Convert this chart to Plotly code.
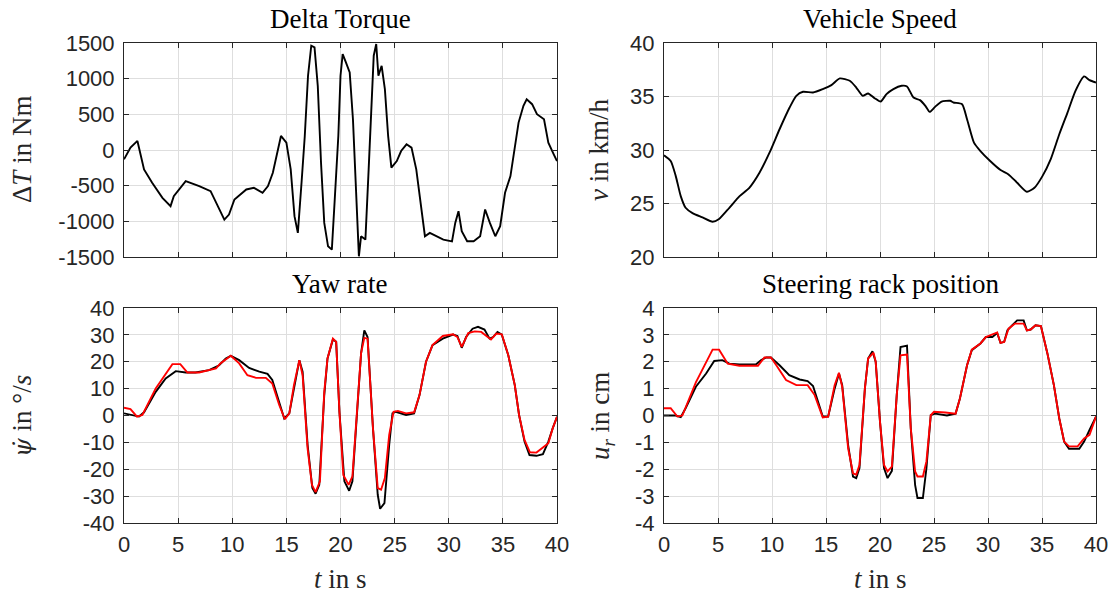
import plotly.graph_objects as go

# ---------------- data ----------------
t_torque = [0, 0.6, 1.24, 1.85, 2.6, 3.55, 4.3, 4.6, 5.7, 6.95, 8.0, 8.8, 9.27, 9.7, 10.2, 11.3, 12.0,
            12.8, 13.3, 13.75, 14.2, 14.5, 15.0, 15.4, 15.75, 16.06, 16.4, 16.7, 17.0, 17.3, 17.6, 17.9,
            18.2, 18.5, 18.85, 19.2, 19.45, 19.8, 20.0, 20.2, 20.5, 20.85, 21.15, 21.5, 21.7, 21.9, 22.3,
            22.6, 22.85, 23.07, 23.3, 23.5, 23.8, 24.1, 24.4, 24.7, 25.2, 25.6, 26.1, 26.56, 27.0, 27.5,
            27.8, 28.25, 28.9, 29.5, 30.3, 30.6, 30.9, 31.2, 31.7, 32.3, 32.9, 33.36, 33.8, 34.3, 34.75,
            35.2, 35.7, 36.1, 36.45, 36.9, 37.2, 37.7, 38.15, 38.8, 39.2, 39.7, 40]
torque = [-131, 33, 127, -272, -459, -670, -787, -647, -436, -506, -577, -834, -975, -905, -694, -553, -530,
          -600, -506, -319, 9, 197, 103, -272, -928, -1162, -459, 197, 1041, 1462, 1439, 900,
          -178, -1022, -1350, -1397, -740, 197, 1041, 1345, 1228, 1088, 431, -740, -1490, -1209, -1256,
          -272, 666, 1322, 1486, 1041, 1181, 853, 197, -248, -155, -14, 80, 33, -272, -834,
          -1209, -1162, -1209, -1256, -1280, -1022, -858, -1139, -1280, -1280, -1209, -834, -1022, -1209, -1069,
          -600, -366, 56, 384, 619, 712, 642, 502, 431, 103, -61, -155]

t_speed = [0, 0.62, 1.09, 1.55, 2.0, 2.64, 3.57, 4.5, 5.1, 6.05, 7.0, 7.9, 8.84, 9.77, 10.7, 11.63, 12.25,
           12.87, 13.8, 14.7, 15.5, 16.28, 17.2, 17.8, 18.4, 18.9, 19.5, 20.06, 20.6, 21.24, 22.0, 22.5,
           23.1, 23.7, 24.2, 24.6, 25.1, 25.7, 26.5, 26.8, 27.6, 28.06, 28.7, 29.3, 30.2, 31.16, 31.9,
           32.7, 33.6, 34.3, 35.04, 35.8, 36.6, 37.36, 38.1, 38.9, 39.4, 40]
speed = [29.5, 28.97, 27.56, 25.69, 24.6, 24.1, 23.7, 23.3, 23.56, 24.6, 25.69, 26.47, 27.875, 29.75, 31.94, 33.97, 35.06,
         35.44, 35.375, 35.69, 36.06, 36.69, 36.47, 35.84, 35.06, 35.28, 34.84, 34.53, 35.22, 35.69, 36.0, 35.94,
         34.9, 34.66, 34.125, 33.56, 34.03, 34.53, 34.6, 34.44, 34.28, 32.875, 30.69, 29.9, 28.97, 28.125, 27.72,
         26.94, 26.1, 26.47, 27.56, 29.125, 31.47, 33.5, 35.53, 36.875, 36.53, 36.3]

t_yaw_meas = [0, 0.77, 1.39, 1.85, 2.93, 3.85, 4.78, 5.7, 6.6, 7.86, 8.79, 9.4, 9.87, 10.64, 11.56, 12.5, 13.26,
              13.7, 14.34, 14.8, 15.27, 15.7, 16.2, 16.5, 16.96, 17.4, 17.7, 18.04, 18.5, 18.8, 19.3, 19.6,
              19.9, 20.36, 20.8, 21.1, 21.6, 21.9, 22.2, 22.5, 23.0, 23.44, 23.66, 24.06, 24.5, 24.8, 25.1,
              26.06, 26.8, 27.3, 27.9, 28.5, 29.45, 30.4, 30.8, 31.2, 31.6, 32.2, 32.7, 33.3, 33.77, 34.1,
              34.5, 34.9, 35.5, 36.1, 36.5, 37.0, 37.46, 38.1, 38.7, 39.2, 39.6, 40]
yaw_meas = [0.8, 0.2, -0.4, 1.2, 8.8, 13.8, 16.5, 16.0, 16.0, 16.9, 18.7, 21.2, 22.2, 20.6, 17.7, 16.3, 15.5,
            13.2, 5.1, -1.1, 0.8, 10.1, 20.6, 16.3, -10.9, -27.0, -29.1, -25.8, 7.6, 21.2, 28.3, 27.4,
            1.4, -24.5, -28.0, -24.5, 7.6, 23.1, 31.7, 29.2, -4.8, -29.5, -34.7, -32.6, -10.9, 0.8, 1.4,
            0.2, 0.8, 7.6, 20.0, 26.2, 28.6, 30.1, 29.6, 25.2, 29.2, 32.3, 33.0, 32.0, 28.6, 29.2,
            31.1, 30.1, 22.4, 11.3, 0.1, -9.7, -14.7, -15.0, -14.4, -9.7, -4.8, -0.5]

t_yaw_model = [0, 0.6, 1.2, 1.7, 2.93, 3.85, 4.47, 5.2, 5.86, 6.94, 8.5, 8.9, 9.87, 10.64, 11.4, 12.2, 13.1,
               13.7, 14.34, 14.86, 15.27, 15.7, 16.2, 16.5, 16.96, 17.36, 17.7, 18.1, 18.5, 18.8, 19.3, 19.6,
               19.9, 20.26, 20.75, 21.1, 21.6, 21.9, 22.2, 22.5, 23.0, 23.44, 23.75, 24.1, 24.5, 24.9, 25.3,
               26.06, 26.8, 27.3, 27.9, 28.5, 29.45, 30.4, 30.8, 31.2, 31.8, 32.4, 33.0, 33.5, 33.9, 34.4,
               34.9, 35.5, 36.1, 36.5, 37.0, 37.5, 38.1, 38.7, 39.2, 39.6, 40]
yaw_model = [2.9, 2.4, -0.4, 0.2, 10.1, 15.6, 19.1, 19.1, 16.0, 16.0, 17.5, 19.4, 22.2, 19.4, 15.0, 14.0, 14.0,
             11.9, 3.9, -1.4, 0.8, 11.3, 20.6, 15.0, -12.2, -25.8, -28.5, -24.5, 8.8, 21.2, 28.6, 27.4,
             1.4, -22.1, -25.8, -22.7, 7.6, 23.1, 28.9, 28.6, -4.8, -27.0, -27.6, -23.3, -7.2, 1.4, 1.7,
             0.8, 1.2, 7.6, 20.0, 26.2, 29.6, 30.2, 29.2, 25.5, 30.7, 31.3, 31.1, 29.5, 28.3, 30.5,
             30.2, 22.4, 11.3, 0.1, -9.1, -13.7, -13.8, -11.9, -10.3, -4.8, -0.5]

t_rack_meas = [0, 1.09, 1.55, 2.0, 2.95, 3.9, 4.65, 5.4, 6.05, 6.98, 8.5, 9.0, 9.46, 9.9, 10.7, 11.6, 12.56,
               13.3, 13.8, 14.26, 14.7, 15.2, 15.8, 16.2, 16.5, 17.05, 17.5, 17.8, 18.1, 18.6, 18.9, 19.3,
               19.6, 20.0, 20.37, 20.7, 21.1, 21.55, 21.9, 22.5, 22.85, 23.25, 23.47, 23.97, 24.3, 24.7, 25.1,
               26.2, 27.0, 27.4, 28.06, 28.5, 29.3, 29.8, 30.4, 30.85, 31.16, 31.5, 31.8, 32.25, 32.7, 33.3,
               33.6, 33.95, 34.4, 34.9, 35.5, 36.1, 36.6, 37.05, 37.5, 38.45, 38.9, 39.4, 40]
rack_meas = [0.0, 0.0, -0.06, 0.27, 1.07, 1.56, 2.03, 2.06, 1.93, 1.9, 1.9, 2.06, 2.16, 2.16, 1.87, 1.5, 1.34,
             1.28, 1.1, 0.51, -0.04, -0.04, 1.0, 1.56, 1.13, -1.1, -2.27, -2.33, -1.96, 1.0, 2.12, 2.39,
             2.0, -0.23, -1.96, -2.33, -2.06, 0.76, 2.55, 2.6, -0.48, -2.58, -3.07, -3.07, -1.96, 0.01, 0.07,
             0.0, 0.07, 0.63, 1.87, 2.43, 2.68, 2.92, 2.92, 3.07, 2.7, 2.74, 3.17, 3.36, 3.54, 3.54,
             3.17, 3.2, 3.36, 3.33, 2.31, 1.13, -0.11, -0.97, -1.24, -1.24, -0.97, -0.54, -0.04]

t_rack_model = [0, 0.62, 1.24, 1.7, 2.95, 3.9, 4.5, 5.1, 5.9, 6.98, 8.7, 9.3, 9.9, 10.4, 11.3, 12.25, 13.3,
                13.95, 14.7, 15.2, 15.8, 16.2, 16.5, 17.05, 17.5, 17.8, 18.1, 18.6, 18.9, 19.4, 19.6, 20.0,
                20.37, 20.7, 21.1, 21.55, 21.9, 22.5, 22.85, 23.25, 23.47, 23.97, 24.3, 24.7, 25.0, 26.05, 27.0,
                27.4, 28.06, 28.5, 29.3, 29.8, 30.55, 30.85, 31.16, 31.5, 31.9, 32.5, 33.3, 33.6, 33.95, 34.4,
                34.9, 35.5, 36.1, 36.6, 37.05, 37.5, 38.3, 38.9, 39.4, 40]
rack_model = [0.27, 0.27, -0.04, 0.0, 1.23, 2.0, 2.45, 2.45, 1.93, 1.85, 1.85, 2.16, 2.16, 1.87, 1.32, 1.13, 1.13,
              0.76, -0.07, -0.04, 1.13, 1.59, 1.07, -1.22, -2.15, -2.2, -1.84, 1.0, 2.12, 2.34, 2.0, -0.23,
              -1.84, -2.08, -1.9, 0.76, 2.24, 2.27, -0.48, -2.08, -2.27, -2.27, -1.71, 0.01, 0.14, 0.11, 0.07,
              0.63, 1.87, 2.45, 2.68, 2.92, 3.05, 3.09, 2.7, 2.74, 3.23, 3.42, 3.42, 3.17, 3.2, 3.36,
              3.33, 2.31, 1.13, -0.11, -0.97, -1.15, -1.15, -0.85, -0.72, -0.04]

x_ticks = [0, 5, 10, 15, 20, 25, 30, 35, 40]
torque_ticks = [-1500, -1000, -500, 0, 500, 1000, 1500]
speed_ticks = [20, 25, 30, 35, 40]
yaw_ticks = [-40, -30, -20, -10, 0, 10, 20, 30, 40]
rack_ticks = [-4, -3, -2, -1, 0, 1, 2, 3, 4]

titles = ["Delta Torque", "Vehicle Speed", "Yaw rate", "Steering rack position"]

# ---------------- figure ----------------
W, H = 1113, 595
fig = go.Figure()

BLACK = "#000000"
RED = "#ff0000"
LW = 1.9

fig.add_trace(go.Scatter(x=t_torque, y=torque, mode="lines", line=dict(color=BLACK, width=LW),
                         xaxis="x", yaxis="y", showlegend=False))
fig.add_trace(go.Scatter(x=t_speed, y=speed, mode="lines", line=dict(color=BLACK, width=LW, shape="spline", smoothing=0.6),
                         xaxis="x2", yaxis="y2", showlegend=False))
fig.add_trace(go.Scatter(x=t_yaw_meas, y=yaw_meas, mode="lines", line=dict(color=BLACK, width=LW),
                         xaxis="x3", yaxis="y3", showlegend=False))
fig.add_trace(go.Scatter(x=t_yaw_model, y=yaw_model, mode="lines", line=dict(color=RED, width=LW),
                         xaxis="x3", yaxis="y3", showlegend=False))
fig.add_trace(go.Scatter(x=t_rack_meas, y=rack_meas, mode="lines", line=dict(color=BLACK, width=LW),
                         xaxis="x4", yaxis="y4", showlegend=False))
fig.add_trace(go.Scatter(x=t_rack_model, y=rack_model, mode="lines", line=dict(color=RED, width=LW),
                         xaxis="x4", yaxis="y4", showlegend=False))

def px_x(p):
    return p / W

def px_y(p):
    return 1 - p / H

xl = [px_x(124), px_x(557)]
xr = [px_x(664), px_x(1096)]
yt = [px_y(257), px_y(43)]
yb = [px_y(523), px_y(308)]

TICKFONT = dict(family="Liberation Sans, Arial, sans-serif", size=22, color="#262626")
SERIF = "Liberation Serif, Times New Roman, serif"

def xaxis(domain, anchor, show_labels):
    return dict(domain=domain, anchor=anchor, range=[0, 40], tickvals=x_ticks,
                ticktext=[str(v) for v in x_ticks], showticklabels=show_labels,
                ticks="inside", ticklen=5, tickcolor="#262626", tickwidth=1,
                showline=True, linecolor="#262626", linewidth=1, mirror="ticks",
                showgrid=True, gridcolor="#dedede", gridwidth=1, zeroline=False,
                tickfont=TICKFONT, fixedrange=True, automargin=False, ticklabelstandoff=2)

def yaxis(domain, anchor, rng, ticks):
    return dict(domain=domain, anchor=anchor, range=rng, tickvals=ticks,
                ticktext=[str(v) for v in ticks],
                ticks="inside", ticklen=5, tickcolor="#262626", tickwidth=1,
                showline=True, linecolor="#262626", linewidth=1, mirror="ticks",
                showgrid=True, gridcolor="#dedede", gridwidth=1, zeroline=False,
                tickfont=TICKFONT, fixedrange=True, automargin=False, ticklabelstandoff=4)

fig.update_layout(
    template="none",
    width=W, height=H,
    margin=dict(l=0, r=0, t=0, b=0, autoexpand=False),
    paper_bgcolor="white", plot_bgcolor="white",
    xaxis=xaxis(xl, "y", False),
    yaxis=yaxis(yt, "x", [-1500, 1500], torque_ticks),
    xaxis2=xaxis(xr, "y2", False),
    yaxis2=yaxis(yt, "x2", [20, 40], speed_ticks),
    xaxis3=xaxis(xl, "y3", True),
    yaxis3=yaxis(yb, "x3", [-40, 40], yaw_ticks),
    xaxis4=xaxis(xr, "y4", True),
    yaxis4=yaxis(yb, "x4", [-4, 4], rack_ticks),
)

TITLEFONT = dict(family=SERIF, size=27, color="#000000")
LABELFONT = dict(family=SERIF, size=27, color="#262626")

anns = []
# panel titles
for txt, cx, cy in [(titles[0], 340, 19), (titles[1], 880, 19), (titles[2], 340, 284), (titles[3], 880, 284)]:
    anns.append(dict(text=txt, x=px_x(cx), y=px_y(cy), xref="paper", yref="paper",
                     xanchor="center", yanchor="middle", showarrow=False, font=TITLEFONT))
# y labels
psi_dot = '<span style="font-family:DejaVu Serif;font-style:italic;font-size:24px">ψ̇</span>'
for txt, cx, cy in [("Δ<i>T</i> in Nm", 22, 150), ("<i>v</i> in km/h", 599, 150),
                    (psi_dot + " in °/<i>s</i>", 22, 416), ("<i>u</i><sub><i>r</i></sub> in cm", 602, 416)]:
    anns.append(dict(text=txt, x=px_x(cx), y=px_y(cy), xref="paper", yref="paper",
                     xanchor="center", yanchor="middle", showarrow=False, textangle=-90, font=LABELFONT))
# x labels
for cx in [340, 880]:
    anns.append(dict(text="<i>t</i> in s", x=px_x(cx), y=px_y(579), xref="paper", yref="paper",
                     xanchor="center", yanchor="middle", showarrow=False, font=LABELFONT))
fig.update_layout(annotations=anns)

fig.write_html("out.html")
